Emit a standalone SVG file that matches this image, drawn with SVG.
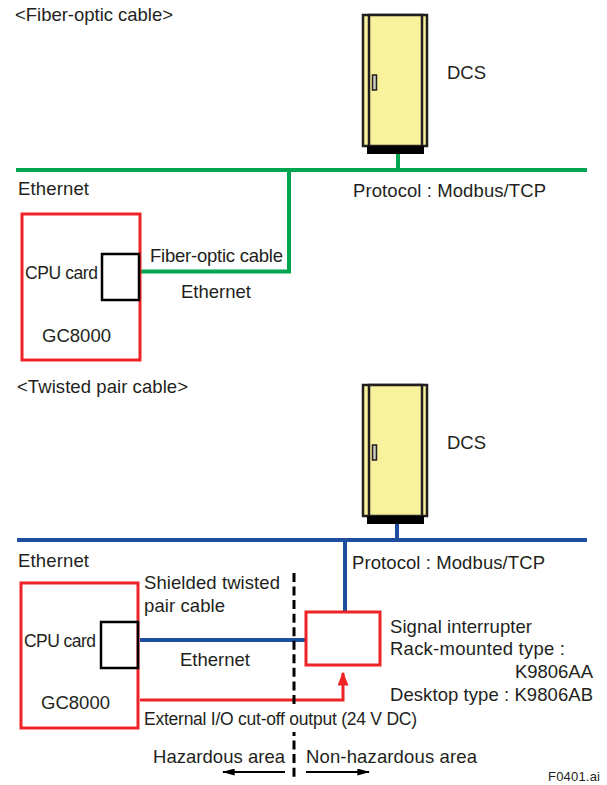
<svg xmlns="http://www.w3.org/2000/svg" width="607" height="785" viewBox="0 0 607 785">
<style>
text{font-family:"Liberation Sans",Arial,sans-serif;font-size:18.5px;fill:#231f20}
.g{fill:none;stroke:#00a650;stroke-width:4}
.b{fill:none;stroke:#1f4e9f;stroke-width:4}
.r{fill:none;stroke:#ee2326;stroke-width:3}
.k{fill:none;stroke:#000;stroke-width:2.5}
.cab{fill:#f7f29b;stroke:#231f20;stroke-width:2.5}
.hz{fill:none;stroke:#000;stroke-width:2}
.d{fill:none;stroke:#000;stroke-width:3;stroke-dasharray:9 4.55}
.t{font-size:17.5px}
</style>
<defs>
<g id="cabinet">
<rect class="cab" x="0" y="0" width="64" height="131"/>
<rect class="cab" x="6" y="0" width="53" height="131"/>
<rect x="4" y="131" width="57" height="8" fill="#000"/>
<rect x="9.5" y="60" width="4" height="15" fill="#c9c9c0" stroke="#231f20" stroke-width="1.5"/>
</g>
<marker id="ar" viewBox="0 0 10 10" refX="9" refY="5" markerWidth="13" markerHeight="7" markerUnits="userSpaceOnUse" orient="auto" preserveAspectRatio="none"><path d="M0 0L10 5L0 10z" fill="#000"/></marker>
<marker id="ared" viewBox="0 0 10 10" refX="9" refY="5" markerWidth="14" markerHeight="11" markerUnits="userSpaceOnUse" orient="auto" preserveAspectRatio="none"><path d="M0 0L10 5L0 10z" fill="#ee2326"/></marker>
</defs>
<text x="15" y="21" textLength="158">&lt;Fiber-optic cable&gt;</text>
<text x="17" y="393" textLength="171">&lt;Twisted pair cable&gt;</text>
<g id="connectors">
<path class="g" d="M398 152V170M16 170H587M289 170V271.5H140"/>
<path class="b" d="M397 522V540M17 540H587M345 540V611M140 640H305"/>
<path class="r" d="M140 700H343V673" marker-end="url(#ared)"/>
<path class="d" d="M294 573V704"/>
<path class="d" d="M294 732V780" stroke-dashoffset="5"/>
<path class="hz" d="M285 772H223" marker-end="url(#ar)"/>
<path class="hz" d="M306 772H369" marker-end="url(#ar)"/>
</g>
<g id="dcs1"><use href="#cabinet" x="363" y="15"/><text x="447" y="79" textLength="39">DCS</text></g>
<g id="gc1">
<rect class="r" x="22" y="214" width="118" height="146"/>
<rect class="k" x="102" y="254" width="37" height="46"/>
<text class="t" x="25" y="279" textLength="73">CPU card</text>
<text x="42" y="342" textLength="69">GC8000</text>
</g>
<g id="dcs2"><use href="#cabinet" x="363" y="385"/><text x="447" y="449" textLength="39">DCS</text></g>
<g id="gc2">
<rect class="r" x="21" y="583" width="117" height="145"/>
<rect class="k" x="101" y="622" width="37" height="46"/>
<text class="t" x="24" y="647" textLength="72">CPU card</text>
<text x="41" y="709" textLength="69">GC8000</text>
</g>
<g id="interrupter"><rect class="r" x="306" y="612" width="74" height="53"/></g>
<text x="18" y="195" textLength="71">Ethernet</text>
<text x="353" y="197" textLength="193">Protocol : Modbus/TCP</text>
<text x="150" y="262" textLength="133">Fiber-optic cable</text>
<text x="181" y="298" textLength="70">Ethernet</text>
<text x="18" y="567" textLength="71">Ethernet</text>
<text x="352" y="569" textLength="193">Protocol : Modbus/TCP</text>
<text x="144" y="589" textLength="136">Shielded twisted</text>
<text x="144" y="612" textLength="81">pair cable</text>
<text x="180" y="666" textLength="70">Ethernet</text>
<text class="t" x="144" y="725" textLength="273">External I/O cut-off output (24 V DC)</text>
<text x="390" y="633" textLength="142">Signal interrupter</text>
<text x="390" y="655" textLength="175">Rack-mounted type :</text>
<text x="515" y="678" textLength="78">K9806AA</text>
<text x="390" y="701" textLength="203">Desktop type : K9806AB</text>
<text x="153" y="763" textLength="132">Hazardous area</text>
<text x="306" y="763" textLength="171">Non-hazardous area</text>
<text x="548" y="781" textLength="52" style="font-size:13px">F0401.ai</text>
</svg>
